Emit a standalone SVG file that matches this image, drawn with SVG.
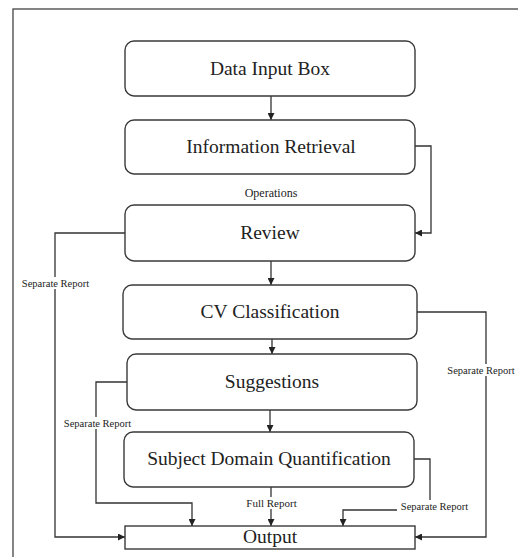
<svg xmlns="http://www.w3.org/2000/svg" width="518" height="557" viewBox="0 0 518 557">
<style>
.box{fill:#fff;stroke:#3a3a3a;stroke-width:1.4}
.t{font-family:'Liberation Serif','Times New Roman',serif;font-size:19.5px;fill:#222;text-anchor:middle}
.s{font-family:'Liberation Serif','Times New Roman',serif;font-size:10.5px;fill:#222;text-anchor:middle}
.c{fill:none;stroke:#333;stroke-width:1.3}
.bg{fill:#fff}
</style>
<defs>
<marker id="a" viewBox="0 0 10 10" refX="10" refY="5" markerWidth="7" markerHeight="7" markerUnits="userSpaceOnUse" orient="auto">
<path d="M0,0 L10,5 L0,10 z" fill="#222"/>
</marker>
</defs>
<rect x="0" y="0" width="518" height="557" fill="#fff"/>
<rect x="13" y="9" width="520" height="560" fill="none" stroke="#444" stroke-width="1.3"/>
<g id="connectors">
<path class="c" d="M271,96 V120" marker-end="url(#a)"/>
<path class="c" d="M415,146 H431 V233 H415" marker-end="url(#a)"/>
<path class="c" d="M271,261 V285" marker-end="url(#a)"/>
<path class="c" d="M125,233 H55 V537 H125" marker-end="url(#a)"/>
<path class="c" d="M272,339 V354" marker-end="url(#a)"/>
<path class="c" d="M417,312 H486 V537 H415" marker-end="url(#a)"/>
<path class="c" d="M270,410 V432" marker-end="url(#a)"/>
<path class="c" d="M127,382 H96 V503 H192 V526" marker-end="url(#a)"/>
<path class="c" d="M271,487 V526" marker-end="url(#a)"/>
<path class="c" d="M414,459 H430 V510 H343 V526" marker-end="url(#a)"/>
<rect class="bg" x="236" y="186" width="70" height="14"/>
<text class="s" x="271" y="197" style="font-size:12px">Operations</text>
<rect class="bg" x="18" y="277" width="75" height="12"/>
<text class="s" x="55.5" y="287">Separate Report</text>
<rect class="bg" x="444" y="364" width="74" height="12"/>
<text class="s" x="481" y="374">Separate Report</text>
<rect class="bg" x="60" y="417" width="75" height="12"/>
<text class="s" x="97.5" y="427">Separate Report</text>
<rect class="bg" x="245" y="497" width="53" height="12"/>
<text class="s" x="271.5" y="507" style="font-size:11px">Full Report</text>
<rect class="bg" x="397" y="500" width="75" height="12"/>
<text class="s" x="434.5" y="510">Separate Report</text>
</g>
<g id="data-input"><rect class="box" x="125" y="41" width="290" height="55" rx="9"/><text class="t" x="270" y="75">Data Input Box</text></g>
<g id="info-retrieval"><rect class="box" x="125" y="120" width="290" height="54" rx="9"/><text class="t" x="271" y="153">Information Retrieval</text></g>
<g id="review"><rect class="box" x="125" y="205" width="290" height="56" rx="9"/><text class="t" x="270" y="239">Review</text></g>
<g id="cv-classification"><rect class="box" x="123" y="285" width="294" height="54" rx="9"/><text class="t" x="270" y="318">CV Classification</text></g>
<g id="suggestions"><rect class="box" x="127" y="354" width="290" height="56" rx="9"/><text class="t" x="272" y="388">Suggestions</text></g>
<g id="subject-domain"><rect class="box" x="124" y="432" width="290" height="55" rx="9"/><text class="t" x="269" y="465">Subject Domain Quantification</text></g>
<g id="output"><rect class="box" x="125" y="526" width="290" height="23"/><text class="t" x="270" y="543">Output</text></g>
</svg>
